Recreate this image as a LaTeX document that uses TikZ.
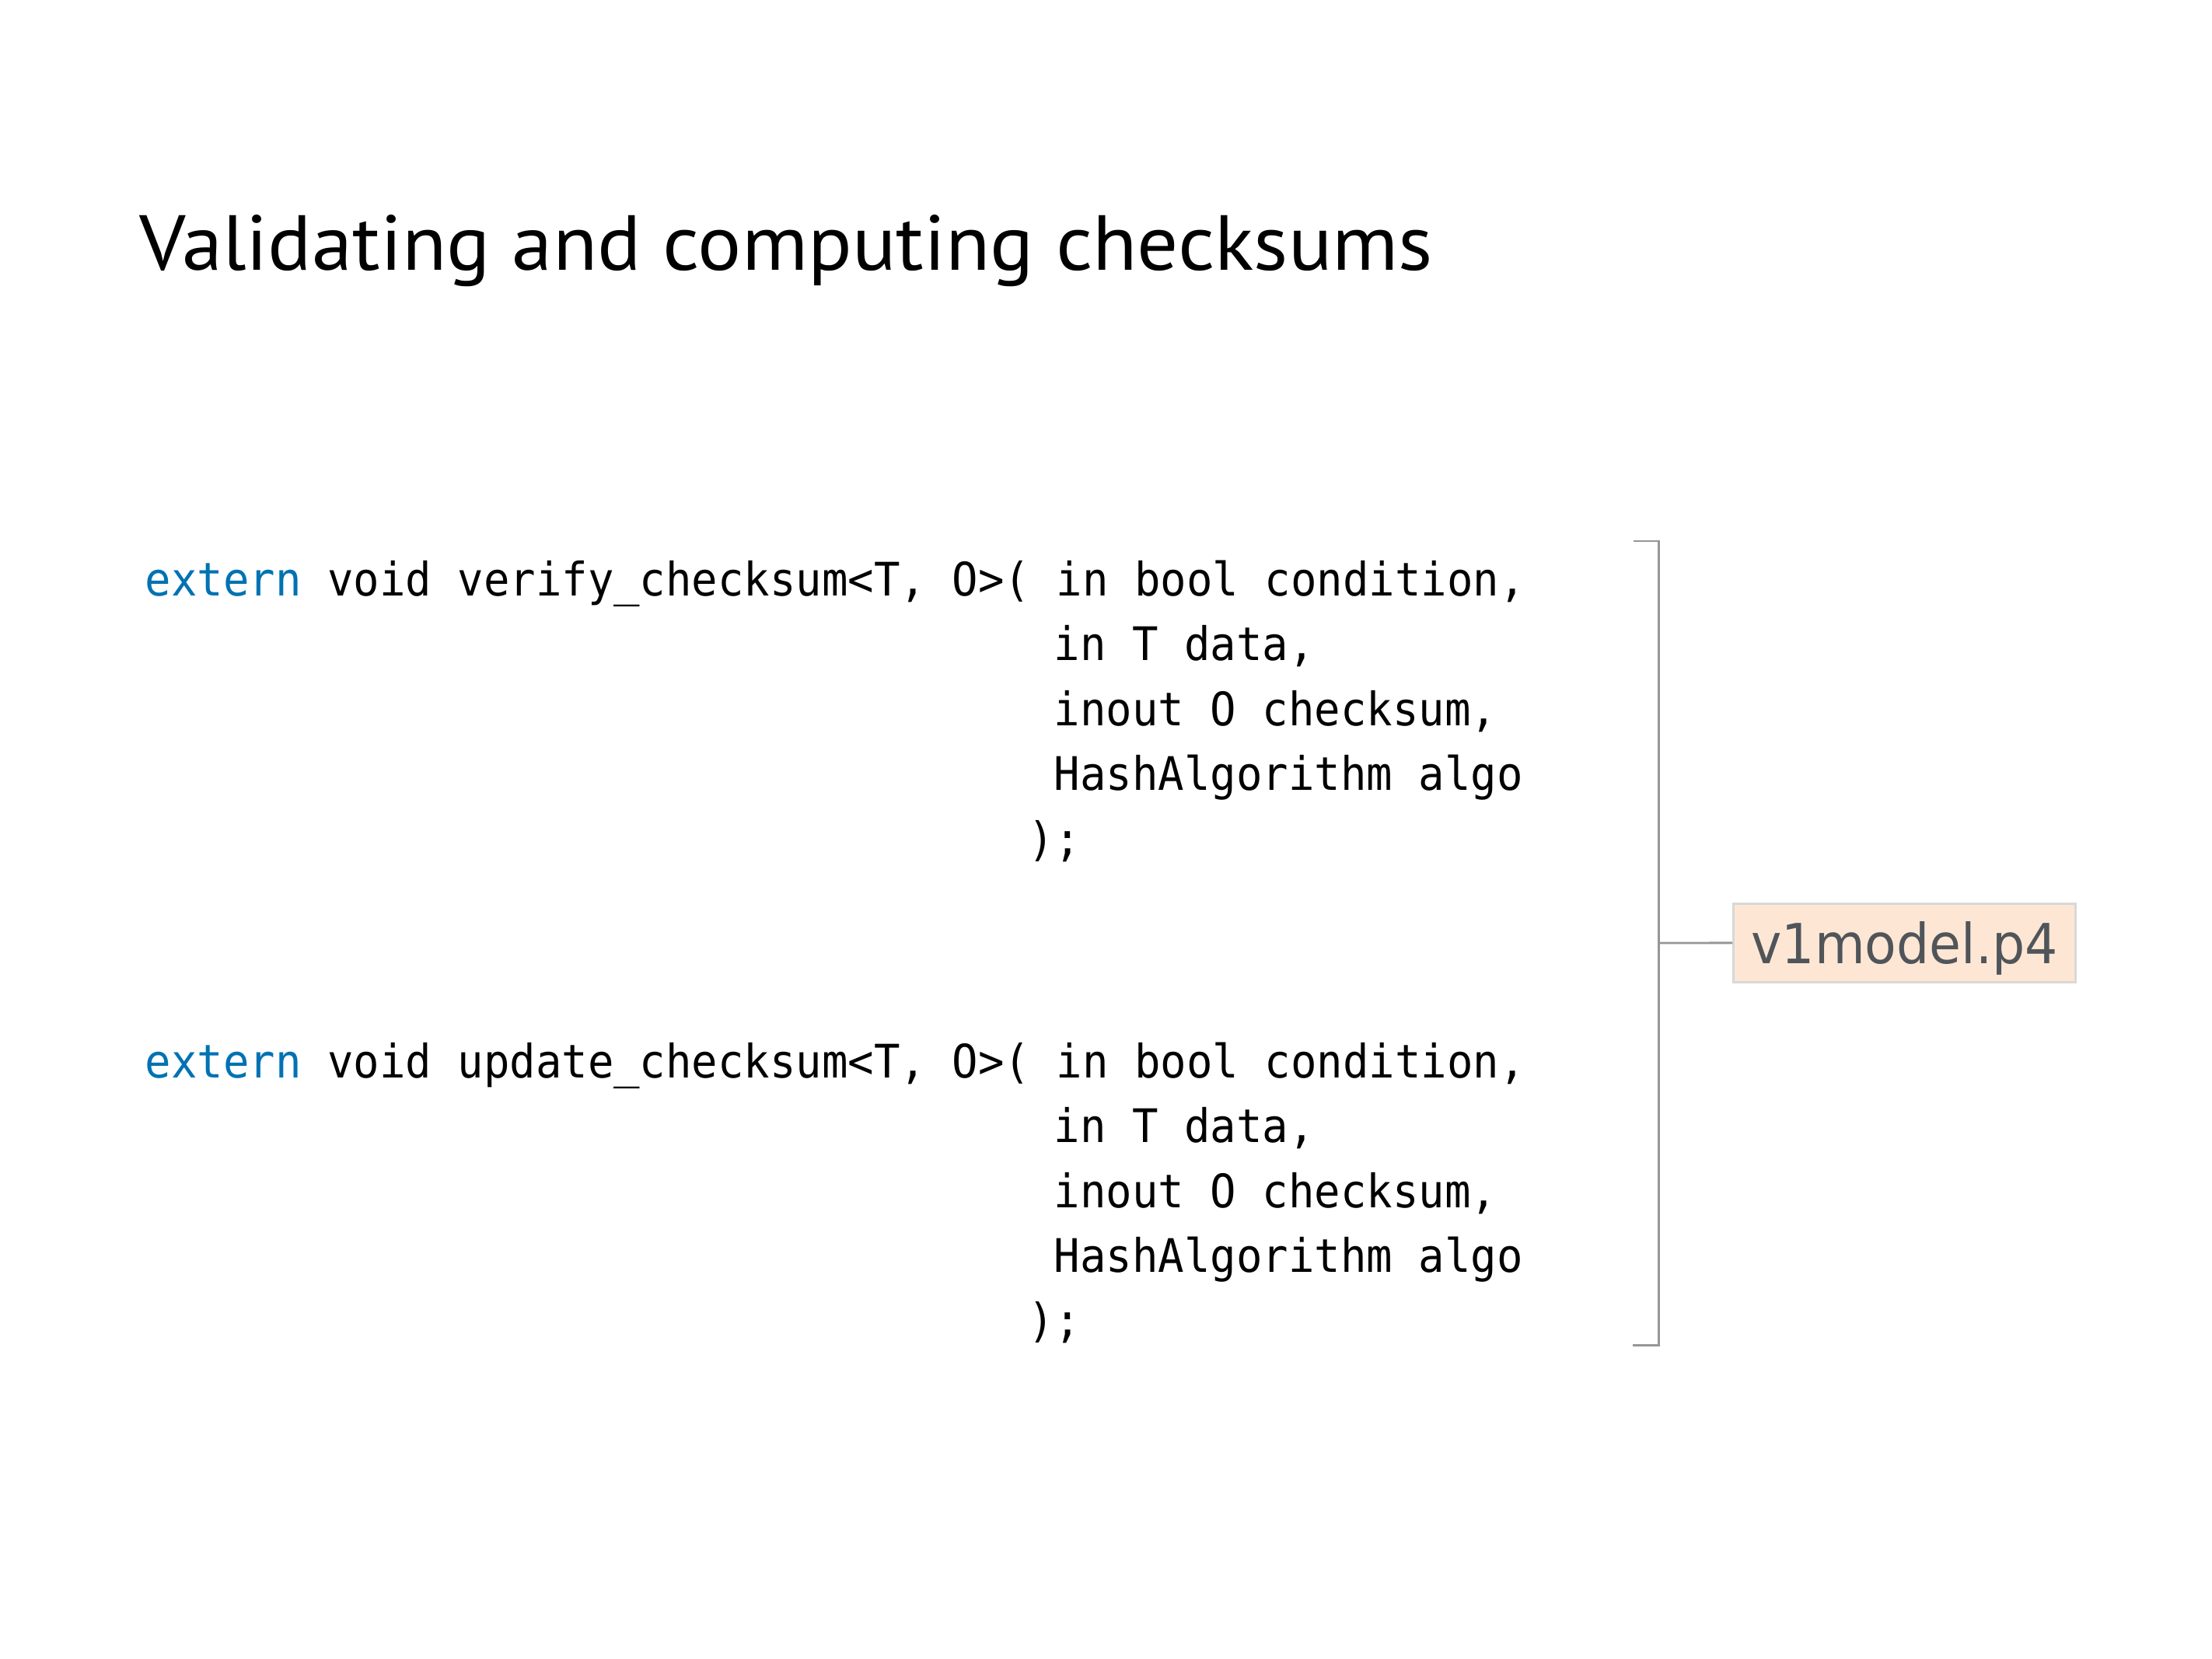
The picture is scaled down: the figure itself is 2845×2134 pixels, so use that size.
\documentclass[tikz,border=0pt]{standalone}
\usepackage{fontspec}
\usepackage{graphicx}
\setmainfont{DejaVu Sans}
\newfontfamily\titlefont{PT Sans}
\newfontfamily\codefont{DejaVu Sans Mono}
\newfontfamily\labelfont{DejaVu Sans}
\definecolor{kwblue}{RGB}{0,114,178}
\definecolor{labeltext}{RGB}{80,85,90}
\definecolor{labelfill}{RGB}{253,231,212}
\definecolor{labelborder}{RGB}{216,216,216}
\definecolor{bracketgray}{RGB}{150,150,150}
\newcommand{\codeline}[1]{\scalebox{0.936}[1]{\fontsize{16.9pt}{20pt}\codefont #1}}
\tikzset{
  codetext/.style={anchor=base west, inner sep=0pt, text=black},
  bracketline/.style={draw=bracketgray, line width=0.85pt},
  filelabel/.style={anchor=base west, fill=labelfill, draw=labelborder, line width=0.85pt,
    inner xsep=0.23cm, inner ysep=0pt, text height=0.76cm, text depth=0.24cm, text=labeltext}
}
\begin{document}
\begin{tikzpicture}[x=0.01cm,y=-0.01cm]
\useasboundingbox (0,0) rectangle (2845,2134);
% title
\node[anchor=base west, inner sep=0pt] (title) at (179,348)
  {\resizebox{16.62cm}{0.71cm}{\titlefont Validating and computing checksums}};
% block 1
\node[codetext] (v1) at (186,767) {\codeline{\textcolor{kwblue}{extern} void verify\_checksum<T, O>( in bool condition,}};
\node[codetext] (v2) at (1355,850) {\codeline{in T data,}};
\node[codetext] (v3) at (1355,933) {\codeline{inout O checksum,}};
\node[codetext] (v4) at (1355,1016) {\codeline{HashAlgorithm algo}};
\node[codetext] (v5) at (1322,1100) {\codeline{);}};
% block 2
\node[codetext] (u1) at (186,1386) {\codeline{\textcolor{kwblue}{extern} void update\_checksum<T, O>( in bool condition,}};
\node[codetext] (u2) at (1355,1469) {\codeline{in T data,}};
\node[codetext] (u3) at (1355,1553) {\codeline{inout O checksum,}};
\node[codetext] (u4) at (1355,1636) {\codeline{HashAlgorithm algo}};
\node[codetext] (u5) at (1322,1719) {\codeline{);}};
% bracket
\coordinate (btl) at (2101,696);
\coordinate (bt) at (2133,696);
\coordinate (bb) at (2133,1730);
\coordinate (bbl) at (2100,1730);
\coordinate (bm) at (2133,1213);
\draw[bracketline] (btl) -- (bt) -- (bb) -- (bbl);
% label
\node[filelabel] (lbl) at (2228,1239)
  {\resizebox{3.94cm}{0.54cm}{\labelfont v1model.p4}};
\draw[bracketline] (bm) -- (lbl.west);
\end{tikzpicture}
\end{document}
